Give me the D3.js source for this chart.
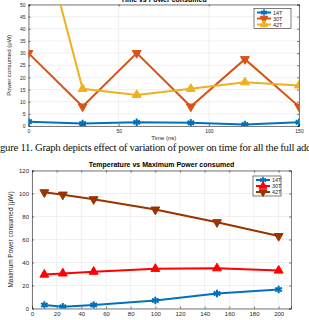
<!DOCTYPE html>
<html lang="en">
<head>
  <meta charset="UTF-8">
  <title>Power charts</title>
  <style>
    body { margin: 0; background: #fff; }
    svg { display: block; font-family: "Liberation Sans", Arial, sans-serif; }
  </style>
</head>
<body>
  <script src="https://d3js.org/d3.v7.min.js"></script>
  <script>
    // top chart: time vs power
    const timeNs = [0, 30, 60, 90, 120, 150]
    const time14T = [1.8, 1.0, 1.5, 1.3, 0.6, 1.5]
    const time30T = [30, 8, 30, 8, 27.5, 8]
    const time42T = [100, 15.3, 12.8, 15.3, 18, 16.7]
    const timeXTicks = [0, 50, 100, 150]
    const timeYTicks = [0, 5, 10, 15, 20, 25, 30, 35, 40, 45, 50]

    // bottom chart: temperature vs max power
    const temps = [10, 25, 50, 100, 150, 200]
    const temp14T = [3, 1.5, 3, 7, 13, 16.5]
    const temp30T = [29.5, 30.5, 32, 34.5, 35, 33]
    const temp42T = [101, 99, 95, 86, 75, 63]
    const tempXTicks = [0, 20, 40, 60, 80, 100, 120, 140, 160, 180, 200]
    const tempYTicks = [0, 20, 40, 60, 80, 100, 120]

    const seriesNames = ['14T', '30T', '42T']

    const W = 309, H = 320
    const svg = d3.select('body').append('svg')
      .attr('width', W)
      .attr('height', H)

    const asterisk = d3.symbol().type(d3.symbolAsterisk)
    const tri = d3.symbol().type(d3.symbolTriangle)

    const drawChart = (opt) => {
      const g = svg.append('g')
      const x = d3.scaleLinear().domain(opt.xDomain).range([opt.left, opt.right])
      const y = d3.scaleLinear().domain(opt.yDomain).range([opt.bottom, opt.top])

      const clipId = 'clip' + opt.id
      svg.append('clipPath').attr('id', clipId)
        .append('rect')
        .attr('x', opt.left).attr('y', opt.top)
        .attr('width', opt.right - opt.left).attr('height', opt.bottom - opt.top)

      g.append('rect')
        .attr('x', opt.left).attr('y', opt.top)
        .attr('width', opt.right - opt.left).attr('height', opt.bottom - opt.top)
        .attr('fill', '#fff')

      // grid
      g.append('g').selectAll('line')
        .data(opt.xTicks)
        .join('line')
        .attr('x1', d => x(d)).attr('x2', d => x(d))
        .attr('y1', opt.top).attr('y2', opt.bottom)
        .attr('stroke', '#e6e6e6').attr('stroke-width', 0.6)
      g.append('g').selectAll('line')
        .data(opt.yTicks)
        .join('line')
        .attr('x1', opt.left).attr('x2', opt.right)
        .attr('y1', d => y(d)).attr('y2', d => y(d))
        .attr('stroke', '#e6e6e6').attr('stroke-width', 0.6)

      // axes
      const xAxis = g.append('g')
        .attr('transform', `translate(0,${opt.bottom})`)
        .call(d3.axisBottom(x).tickValues(opt.xTicks).tickSize(-2).tickPadding(3))
      const yAxis = g.append('g')
        .attr('transform', `translate(${opt.left},0)`)
        .call(d3.axisLeft(y).tickValues(opt.yTicks).tickSize(-2).tickPadding(3))
      g.append('g')
        .attr('transform', `translate(0,${opt.top})`)
        .call(d3.axisTop(x).tickValues(opt.xTicks).tickSize(-2).tickFormat(''))
      g.append('g')
        .attr('transform', `translate(${opt.right},0)`)
        .call(d3.axisRight(y).tickValues(opt.yTicks).tickSize(-2).tickFormat(''))
      g.selectAll('.domain').attr('stroke', '#262626').attr('stroke-width', 0.6)
      g.selectAll('.tick line').attr('stroke', '#262626').attr('stroke-width', 0.6)
      ;[xAxis, yAxis].forEach(a => a.selectAll('text')
        .attr('font-size', opt.tickFont)
        .attr('font-family', '"Liberation Sans", Arial, sans-serif')
        .attr('fill', '#262626'))

      // lines + markers
      opt.series.forEach(s => {
        const pts = opt.xs.map((v, i) => [v, s.values[i]])
        const sg = g.append('g').attr('clip-path', `url(#${clipId})`)
        sg.append('path')
          .datum(pts)
          .attr('d', d3.line().x(d => x(d[0])).y(d => y(d[1])))
          .attr('fill', 'none')
          .attr('stroke', s.color)
          .attr('stroke-width', 2)
        sg.selectAll('path.mk')
          .data(pts)
          .join('path')
          .attr('class', 'mk')
          .attr('transform', d => `translate(${x(d[0])},${y(d[1])})` + (s.marker === 'down' ? ' rotate(180)' : ''))
          .attr('d', s.marker === 'star' ? asterisk.size(40)() : tri.size(34)())
          .attr('fill', s.marker === 'star' ? 'none' : s.color)
          .attr('stroke', s.color)
          .attr('stroke-width', s.marker === 'star' ? 2 : 1)
      })

      // title
      g.append('text')
        .attr('x', (opt.left + opt.right) / 2)
        .attr('y', opt.titleY)
        .attr('text-anchor', 'middle')
        .attr('font-weight', 'bold')
        .attr('font-size', 7)
        .attr('fill', '#000')
        .text(opt.title)

      // y label
      g.append('text')
        .attr('transform', `translate(${opt.yLabelX},${(opt.top + opt.bottom) / 2}) rotate(-90)`)
        .attr('text-anchor', 'middle')
        .attr('font-size', opt.labelFont)
        .attr('fill', '#262626')
        .text(opt.yLabel)

      if (opt.xLabel) {
        g.append('text')
          .attr('x', (opt.left + opt.right) / 2)
          .attr('y', opt.xLabelY)
          .attr('text-anchor', 'middle')
          .attr('font-size', opt.labelFont)
          .attr('fill', '#262626')
          .text(opt.xLabel)
      }

      // legend
      const lg = g.append('g').attr('transform', `translate(${opt.legend[0]},${opt.legend[1]})`)
      lg.append('rect')
        .attr('width', opt.legend[2]).attr('height', 20)
        .attr('fill', '#fff').attr('stroke', '#262626').attr('stroke-width', 0.6)
      opt.series.forEach((s, i) => {
        const ly = 4 + i * 6
        lg.append('line')
          .attr('x1', 3).attr('x2', 17).attr('y1', ly).attr('y2', ly)
          .attr('stroke', s.color).attr('stroke-width', 2)
        lg.append('path')
          .attr('transform', `translate(10,${ly})` + (s.marker === 'down' ? ' rotate(180)' : ''))
          .attr('d', s.marker === 'star' ? asterisk.size(30)() : tri.size(26)())
          .attr('fill', s.marker === 'star' ? 'none' : s.color)
          .attr('stroke', s.color)
          .attr('stroke-width', s.marker === 'star' ? 1.6 : 1)
        lg.append('text')
          .attr('x', 19).attr('y', ly + 2)
          .attr('font-size', 5.5)
          .attr('fill', '#262626')
          .text(s.name)
      })
    }

    drawChart({
      id: 'a',
      left: 28.5, right: 299, top: 4.5, bottom: 126,
      xDomain: [0, 150], yDomain: [0, 50],
      xTicks: timeXTicks, yTicks: timeYTicks,
      xs: timeNs,
      tickFont: 5, labelFont: 6,
      title: 'Time vs Power consumed', titleY: 2,
      yLabel: 'Power consumed (µW)', yLabelX: 11,
      xLabel: 'Time (ns)', xLabelY: 140,
      legend: [254, 8.5, 37],
      series: [
        { name: seriesNames[0], values: time14T, color: '#0072BD', marker: 'star' },
        { name: seriesNames[1], values: time30T, color: '#D95319', marker: 'down' },
        { name: seriesNames[2], values: time42T, color: '#EDB120', marker: 'up' }
      ]
    })

    drawChart({
      id: 'b',
      left: 32, right: 291, top: 170.5, bottom: 308.5,
      xDomain: [0, 210], yDomain: [0, 120],
      xTicks: tempXTicks, yTicks: tempYTicks,
      xs: temps,
      tickFont: 6, labelFont: 6.5,
      title: 'Temperature vs Maximum Power consumed', titleY: 167,
      yLabel: 'Maximum Power consumed (µW)', yLabelX: 13,
      xLabel: null,
      legend: [253, 176, 28],
      series: [
        { name: seriesNames[0], values: temp14T, color: '#0072BD', marker: 'star' },
        { name: seriesNames[1], values: temp30T, color: '#FF0000', marker: 'up' },
        { name: seriesNames[2], values: temp42T, color: '#993300', marker: 'down' }
      ]
    })

    // caption between the charts, clipped at the left edge like the source crop
    const cap = svg.append('text')
      .attr('y', 151)
      .attr('font-family', '"Liberation Serif", "DejaVu Serif", serif')
      .attr('font-size', 10.8)
      .attr('letter-spacing', -0.3)
      .attr('fill', '#111')
      .text('Figure 11. Graph depicts effect of variation of power on time for all the full adders')
    const fiWidth = cap.node().getSubStringLength(0, 2)
    cap.attr('x', -fiWidth)
  </script>
</body>
</html>
